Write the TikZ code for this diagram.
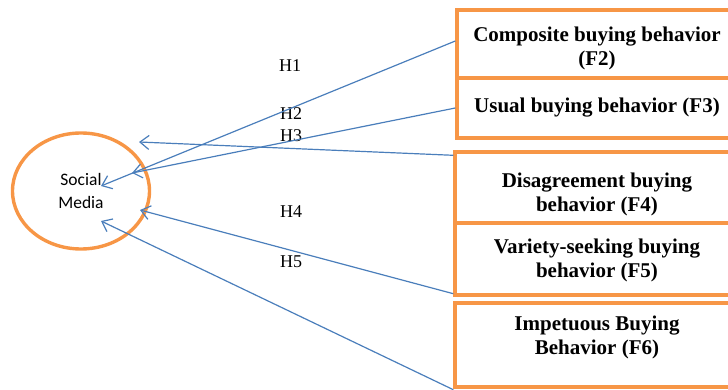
\documentclass[tikz,border=0pt]{standalone}
\usepackage{fontspec}
\setmainfont{Liberation Serif}
\newfontfamily\calib{Carlito}
\usetikzlibrary{arrows.meta,shapes.geometric}
\definecolor{orng}{HTML}{F79646}
\definecolor{lblue}{HTML}{4A7EBB}
\begin{document}
\begin{tikzpicture}[x=1pt,y=-1pt,
  fbox/.style={draw=orng,line width=3.4pt,rectangle,inner sep=0pt},
  btext/.style={font=\fontsize{21}{24}\selectfont\bfseries,align=center,inner sep=0pt},
  hlab/.style={font=\fontsize{18}{20}\selectfont,inner sep=0pt},
  conn/.style={draw=lblue,line width=1.2pt,-{Straight Barb[length=9pt,width=14pt,line width=1.2pt]}}]
\useasboundingbox (0,0) rectangle (728,390);
\begin{scope}
\clip (0,0) rectangle (728,390);
% circle
\node[ellipse,draw=orng,line width=3.4pt,minimum width=137pt,minimum height=116pt,inner sep=0pt,
  font=\calib\fontsize{17.5}{22.5}\selectfont,align=center] (sm) at (81,191) {Social\\Media};
% boxes
\node[fbox,minimum width=283pt,minimum height=68pt] (b1) at (598.5,44) {};
\node[fbox,minimum width=283pt,minimum height=60pt] (b2) at (598.5,108) {};
\node[fbox,minimum width=285pt,minimum height=71pt] (b3) at (597.5,187.5) {};
\node[fbox,minimum width=285pt,minimum height=72pt] (b4) at (597.5,259) {};
\node[fbox,minimum width=285pt,minimum height=84pt] (b5) at (597.5,345) {};
\node[btext] (t1) at (597,48) {Composite buying behavior\\(F2)};
\node[btext] (t2) at (597,108) {Usual buying behavior (F3)};
\node[btext] (t3) at (597,194) {Disagreement buying\\behavior (F4)};
\node[btext] (t4) at (597,260) {Variety-seeking buying\\behavior (F5)};
\node[btext] (t5) at (597,337) {Impetuous Buying\\Behavior (F6)};
% hypothesis labels
\node[hlab] (h1) at (290,66) {H1};
\node[hlab] (h2) at (291,114) {H2};
\node[hlab] (h3) at (291,136) {H3};
\node[hlab] (h4) at (291,212) {H4};
\node[hlab] (h5) at (291,262) {H5};
% connector endpoints
\coordinate (e1) at (101,186);
\coordinate (e2) at (132,173);
\coordinate (e3) at (139,142);
\coordinate (e4) at (140,210);
\coordinate (e5) at (101,221);
\coordinate (s1) at ([yshift=3pt]b1.west);
\coordinate (s3) at ([yshift=-5pt]b3.north west);
\coordinate (s4) at ([yshift=3pt]b4.south west);
\coordinate (s5) at ([yshift=-1pt]b5.south west);
\draw[conn] (s1) -- (e1);
\draw[conn] (b2.west) -- (e2);
\draw[conn] (s3) -- (e3);
\draw[conn] (s4) -- (e4);
\draw[conn] (s5) -- (e5);
\end{scope}
\end{tikzpicture}
\end{document}
